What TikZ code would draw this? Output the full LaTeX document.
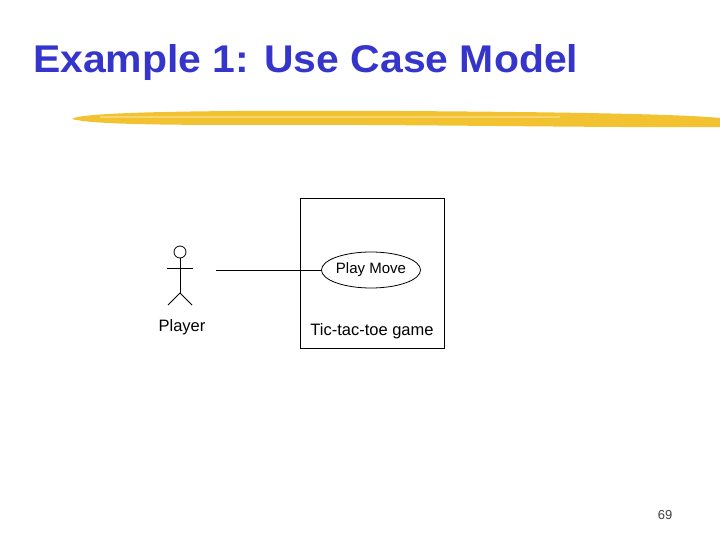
\documentclass[tikz,border=0pt]{standalone}
\usepackage{fontspec}
\setmainfont{Liberation Sans}
\usetikzlibrary{shapes.geometric}
\definecolor{titleblue}{HTML}{3535CC}
\definecolor{brush}{HTML}{F2C230}
\begin{document}
\begin{tikzpicture}[x=1pt,y=-1pt,
  lbl/.style={inner sep=0pt,font=\fontsize{16.5}{18}\selectfont},
  stroke/.style={line width=0.8pt}]
\useasboundingbox (0,0) rectangle (720,540);
\node[anchor=base west,inner sep=0pt,text=titleblue,font=\fontsize{36}{40}\bfseries\selectfont] (title) at (33,73) {\resizebox{545pt}{28pt}{Example 1: Use Case Model}};
\fill[brush] (72,119) .. controls (80,112) and (200,110) .. (400,111) .. controls (560,112) and (680,114) .. (720,118) -- (720,127) .. controls (600,128) and (400,124) .. (250,125) .. controls (150,125) and (90,124) .. (72,119) -- cycle;
\fill[brush!70!white] (100,116) rectangle (560,118);
\draw[stroke] (300,198) rectangle (444,348);
\node[draw,stroke,ellipse,minimum width=96,minimum height=36,inner sep=0pt,font=\fontsize{15}{17}\selectfont] (uc) at (371,270) {Play Move};
\coordinate (actorend) at (216,270);
\draw[stroke] (actorend) -- (uc.west);
\node[draw,stroke,circle,minimum size=12,inner sep=0pt] (head) at (180,252) {};
\draw[stroke] (head.south) -- (180,293) coordinate (hip);
\draw[stroke] (167,268) -- (193,268);
\draw[stroke] (168,305) -- (hip) -- (192,305);
\node[lbl] (player) at (182,327) {Player};
\node[lbl] (sys) at (372,331) {Tic-tac-toe game};
\node[inner sep=0pt,font=\fontsize{13}{15}\selectfont,text=black!75] (page) at (665,515) {69};
\end{tikzpicture}
\end{document}
